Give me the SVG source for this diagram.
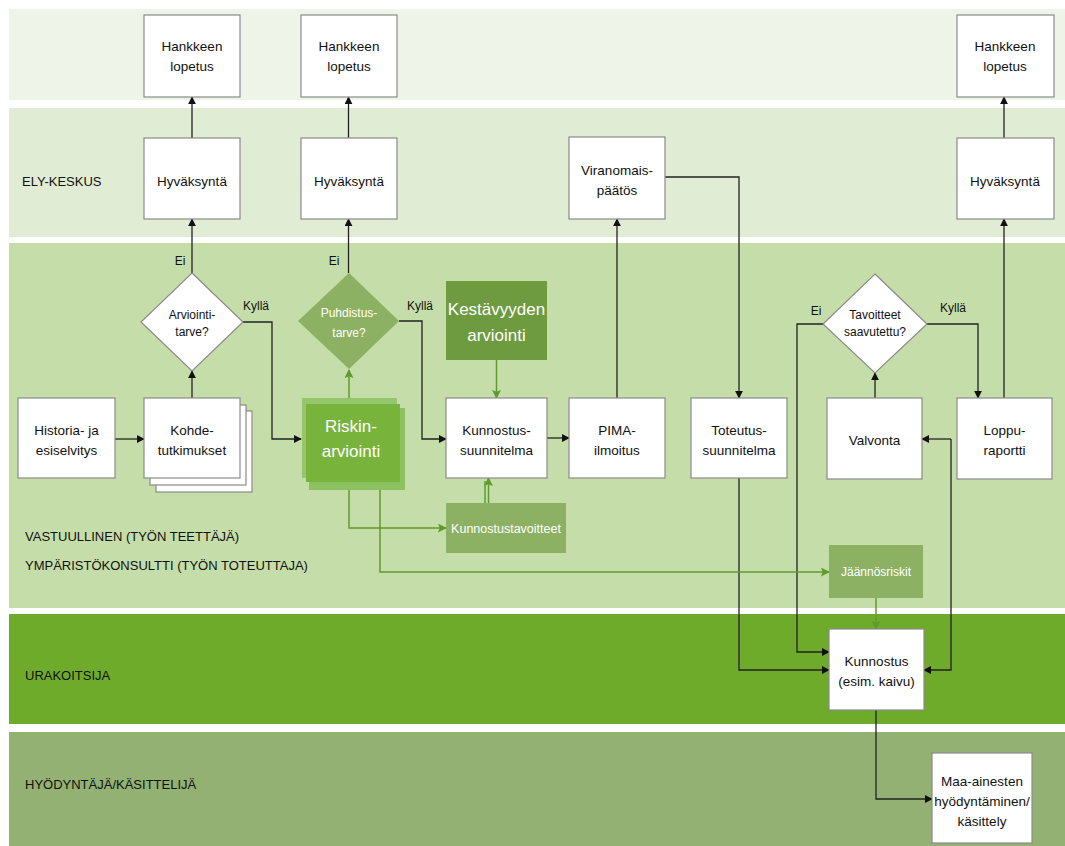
<svg xmlns="http://www.w3.org/2000/svg" width="1065" height="846" viewBox="0 0 1065 846">
<style>
text{font-family:"Liberation Sans","Noto Sans",Arial,sans-serif;fill:#111;}
.t{font-size:13.5px;text-anchor:middle;}
.lbl{font-size:13px;}
.s{font-size:12px;text-anchor:middle;}
.w{fill:#fff;}
.big{font-size:17px;text-anchor:middle;fill:#fff;}
.box{fill:#fff;stroke:#8a8a8a;stroke-width:1.2;}
.c{fill:none;stroke:#222;stroke-width:1.3;}
.g{fill:none;stroke:#5f9b2c;stroke-width:1.5;}
</style>
<defs>
<marker id="a" viewBox="0 0 10 10" refX="9" refY="5" markerWidth="8" markerHeight="8" markerUnits="userSpaceOnUse" orient="auto"><path d="M0,0 L10,5 L0,10 z" fill="#111"/></marker>
<marker id="ga" viewBox="0 0 10 10" refX="9" refY="5" markerWidth="9" markerHeight="9" markerUnits="userSpaceOnUse" orient="auto"><path d="M0,0 L10,5 L0,10 L2,5 z" fill="#5f9b2c"/></marker>
</defs>
<rect width="1065" height="846" fill="#fff"/>
<g id="bands">
<rect x="9" y="9" width="1056" height="91" fill="#eef4e8"/>
<rect x="9" y="108" width="1056" height="129" fill="#e1ecd5"/>
<rect x="9" y="243" width="1056" height="365" fill="#c5dea9"/>
<rect x="9" y="614" width="1056" height="110" fill="#6fab2a"/>
<rect x="9" y="732" width="1056" height="114" fill="#92b172"/>
<text class="lbl" x="22" y="186">ELY-KESKUS</text>
<text class="lbl" x="25" y="541">VASTUULLINEN (TYÖN TEETTÄJÄ)</text>
<text class="lbl" x="25" y="570">YMPÄRISTÖKONSULTTI (TYÖN TOTEUTTAJA)</text>
<text class="lbl" x="25" y="680">URAKOITSIJA</text>
<text class="lbl" x="25" y="789">HYÖDYNTÄJÄ/KÄSITTELIJÄ</text>
</g>
<g id="connectors">
<path class="c" d="M192,138 V97" marker-end="url(#a)"/>
<path class="c" d="M348.5,138 V97" marker-end="url(#a)"/>
<path class="c" d="M1004,138 V97" marker-end="url(#a)"/>
<path class="c" d="M192,273 V219" marker-end="url(#a)"/>
<path class="c" d="M348.5,273 V219" marker-end="url(#a)"/>
<path class="c" d="M192,398 V371" marker-end="url(#a)"/>
<path class="c" d="M115,439 H144" marker-end="url(#a)"/>
<path class="c" d="M243,322 H272 V439 H301" marker-end="url(#a)"/>
<path class="c" d="M399,321 H422 V439 H446" marker-end="url(#a)"/>
<path class="c" d="M547,438 H569" marker-end="url(#a)"/>
<path class="c" d="M617,398 V219" marker-end="url(#a)"/>
<path class="c" d="M665,177 H739 V398" marker-end="url(#a)"/>
<path class="c" d="M739,478 V670 H829" marker-end="url(#a)"/>
<path class="c" d="M823,324 H797 V652 H829" marker-end="url(#a)"/>
<path class="c" d="M875,398 V373" marker-end="url(#a)"/>
<path class="c" d="M927,324 H978 V398" marker-end="url(#a)"/>
<path class="c" d="M1004,398 V219" marker-end="url(#a)"/>
<path class="c" d="M951,439 V670 H924" marker-end="url(#a)"/>
<path class="c" d="M951,439 H922" marker-end="url(#a)"/>
<path class="c" d="M876,710 V799 H932" marker-end="url(#a)"/>
<path class="g" d="M349,398 V370" marker-end="url(#ga)"/>
<path class="g" d="M349,478 V528 H446" marker-end="url(#ga)"/>
<path class="g" d="M380,478 V572 H829" marker-end="url(#ga)"/>
<path class="g" d="M496.5,360 V398" marker-end="url(#ga)"/>
<path class="g" d="M485,503 V481" stroke-width="1.2"/>
<path class="g" d="M488.5,503 V478" marker-end="url(#ga)" stroke-width="1.2"/>
<path class="g" d="M876,598 V629" marker-end="url(#ga)"/>
</g>
<g id="hankkeen1"><rect class="box" x="144" y="15" width="96" height="82"/><text class="t" x="192" y="51">Hankkeen</text><text class="t" x="192" y="71">lopetus</text></g>
<g id="hankkeen2"><rect class="box" x="301" y="15" width="96" height="82"/><text class="t" x="349" y="51">Hankkeen</text><text class="t" x="349" y="71">lopetus</text></g>
<g id="hankkeen3"><rect class="box" x="957" y="15" width="97" height="82"/><text class="t" x="1005" y="51">Hankkeen</text><text class="t" x="1005" y="71">lopetus</text></g>
<g id="hyvaksynta1"><rect class="box" x="144" y="138" width="96" height="81"/><text class="t" x="192" y="186">Hyväksyntä</text></g>
<g id="hyvaksynta2"><rect class="box" x="301" y="138" width="96" height="81"/><text class="t" x="349" y="186">Hyväksyntä</text></g>
<g id="viranomais"><rect class="box" x="569" y="137" width="96" height="82"/><text class="t" x="617" y="175">Viranomais-</text><text class="t" x="617" y="195">päätös</text></g>
<g id="hyvaksynta3"><rect class="box" x="957" y="138" width="97" height="81"/><text class="t" x="1005" y="186">Hyväksyntä</text></g>
<g id="arviointitarve"><path d="M192,273 L243,322 L192,371 L141,322 z" fill="#fff" stroke="#8a8a8a" stroke-width="1.2"/><text class="s" x="192" y="319">Arviointi-</text><text class="s" x="192" y="336">tarve?</text></g>
<g id="kylla1"><text class="s" x="256" y="310">Kyllä</text></g>
<g id="ei1"><text class="s" x="180" y="265">Ei</text></g>
<g id="puhdistustarve"><path d="M349,273 L399,321 L349,369 L298,321 z" fill="#8db162"/><text class="s w" x="349" y="317">Puhdistus-</text><text class="s w" x="349" y="337">tarve?</text></g>
<g id="kylla2"><text class="s" x="420" y="310">Kyllä</text></g>
<g id="ei2"><text class="s" x="334" y="265">Ei</text></g>
<g id="kestavyyden"><rect x="446" y="281" width="101" height="79" fill="#6e9b3f"/><text class="big" x="496.5" y="315">Kestävyyden</text><text class="big" x="496.5" y="341">arviointi</text></g>
<g id="historia"><rect class="box" x="18" y="398" width="97" height="80"/><text class="t" x="66.5" y="435">Historia- ja</text><text class="t" x="66.5" y="455">esiselvitys</text></g>
<g id="kohde">
<rect class="box" x="156" y="411" width="96" height="81"/>
<rect class="box" x="150" y="405" width="96" height="80"/>
<rect class="box" x="144" y="398" width="96" height="80"/>
<text class="t" x="192" y="435">Kohde-</text><text class="t" x="192" y="455">tutkimukset</text></g>
<g id="riskin">
<rect x="302" y="398" width="95" height="80" fill="#95c56c"/>
<rect x="309" y="408" width="96" height="82" fill="#8cc061"/>
<rect x="306" y="404" width="94" height="78" fill="#78b33c"/>
<text class="big" x="351" y="432">Riskin-</text><text class="big" x="351" y="457">arviointi</text></g>
<g id="kunnostussuunnitelma"><rect class="box" x="446" y="398" width="101" height="80"/><text class="t" x="496.5" y="435">Kunnostus-</text><text class="t" x="496.5" y="455">suunnitelma</text></g>
<g id="pima"><rect class="box" x="569" y="398" width="96" height="80"/><text class="t" x="617" y="435">PIMA-</text><text class="t" x="617" y="455">ilmoitus</text></g>
<g id="toteutus"><rect class="box" x="691" y="398" width="96" height="80"/><text class="t" x="739" y="435">Toteutus-</text><text class="t" x="739" y="455">suunnitelma</text></g>
<g id="tavoitteet"><path d="M875,274 L927,324 L875,373 L823,324 z" fill="#fff" stroke="#8a8a8a" stroke-width="1.2"/><text class="s" x="875" y="319">Tavoitteet</text><text class="s" x="875" y="336">saavutettu?</text></g>
<g id="ei3"><text class="s" x="816" y="315">Ei</text></g>
<g id="kylla3"><text class="s" x="953" y="312">Kyllä</text></g>
<g id="valvonta"><rect class="box" x="827" y="398" width="95" height="81"/><text class="t" x="874.5" y="445">Valvonta</text></g>
<g id="loppuraportti"><rect class="box" x="957" y="398" width="95" height="81"/><text class="t" x="1004.5" y="435">Loppu-</text><text class="t" x="1004.5" y="455">raportti</text></g>
<g id="kunnostustavoitteet"><rect x="446" y="503" width="120" height="50" fill="#8db162"/><text class="s w" x="506" y="533" style="font-size:12.5px">Kunnostustavoitteet</text></g>
<g id="jaannosriskit"><rect x="829" y="545" width="94" height="53" fill="#8db162"/><text class="s w" x="876" y="576">Jäännösriskit</text></g>
<g id="kunnostus"><rect class="box" x="829" y="629" width="95" height="81"/><text class="t" x="876.5" y="666">Kunnostus</text><text class="t" x="876.5" y="686">(esim. kaivu)</text></g>
<g id="maa"><rect class="box" x="932" y="753" width="100" height="90"/><text class="t" x="982" y="786">Maa-ainesten</text><text class="t" x="982" y="806">hyödyntäminen/</text><text class="t" x="982" y="826">käsittely</text></g>
</svg>
